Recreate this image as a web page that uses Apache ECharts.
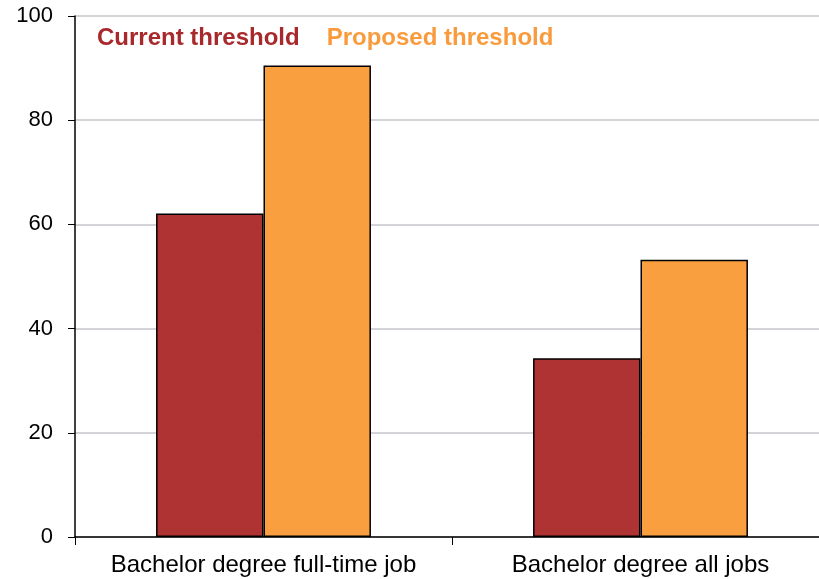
<!DOCTYPE html>
<html>
<head>
<meta charset="utf-8">
<script src="https://cdn.jsdelivr.net/npm/echarts@6/dist/echarts.min.js"></script>
<style>
  html, body { margin: 0; padding: 0; background: #fff; }
  #chart { width: 819px; height: 579px; }
</style>
</head>
<body>
<div id="chart"></div>
<script>
var categories = ['Bachelor degree full-time job', 'Bachelor degree all jobs'];
var currentValues = [62.1, 34.3];
var proposedValues = [90.5, 53.2];
var yTicks = [0, 20, 40, 60, 80, 100];

var myChart = echarts.init(document.getElementById('chart'));

var option = {
    animation: false,
    textStyle: { fontFamily: 'Liberation Sans, Arial, sans-serif' },
    legend: {
        left: 87,
        top: 21,
        icon: 'none',
        itemWidth: 0,
        itemHeight: 0,
        itemGap: 22,
        selectedMode: false,
        textStyle: { fontSize: 24, fontWeight: 'bold' },
        data: [
            { name: 'Current threshold', textStyle: { color: '#a8292c' } },
            { name: 'Proposed threshold', textStyle: { color: '#f99b3c' } }
        ]
    },
    grid: { left: 75, top: 16, width: 754, height: 521, outerBoundsMode: 'none', containLabel: false },
    xAxis: {
        type: 'category',
        data: categories,
        axisLine: { lineStyle: { color: '#000', width: 1.5 } },
        axisTick: { show: true, length: 8, lineStyle: { color: '#000' } },
        axisLabel: { color: '#000', fontSize: 24, margin: 16, interval: 0, hideOverlap: false }
    },
    yAxis: {
        type: 'value',
        min: yTicks[0],
        max: yTicks[yTicks.length - 1],
        interval: 20,
        axisLine: { show: true, lineStyle: { color: '#000', width: 1.5 } },
        axisTick: { show: true, length: 7, lineStyle: { color: '#000' } },
        axisLabel: { color: '#000', fontSize: 22, margin: 22 },
        splitLine: { lineStyle: { color: '#c4c6ca', width: 1.5 } }
    },
    series: [
        {
            name: 'Current threshold',
            type: 'bar',
            data: currentValues,
            barGap: '0%',
            barCategoryGap: '43%',
            itemStyle: { color: '#b03333', borderColor: '#000', borderWidth: 1.5 }
        },
        {
            name: 'Proposed threshold',
            type: 'bar',
            data: proposedValues,
            itemStyle: { color: '#f99f40', borderColor: '#000', borderWidth: 1.5 }
        }
    ]
};

myChart.setOption(option);
</script>
</body>
</html>
